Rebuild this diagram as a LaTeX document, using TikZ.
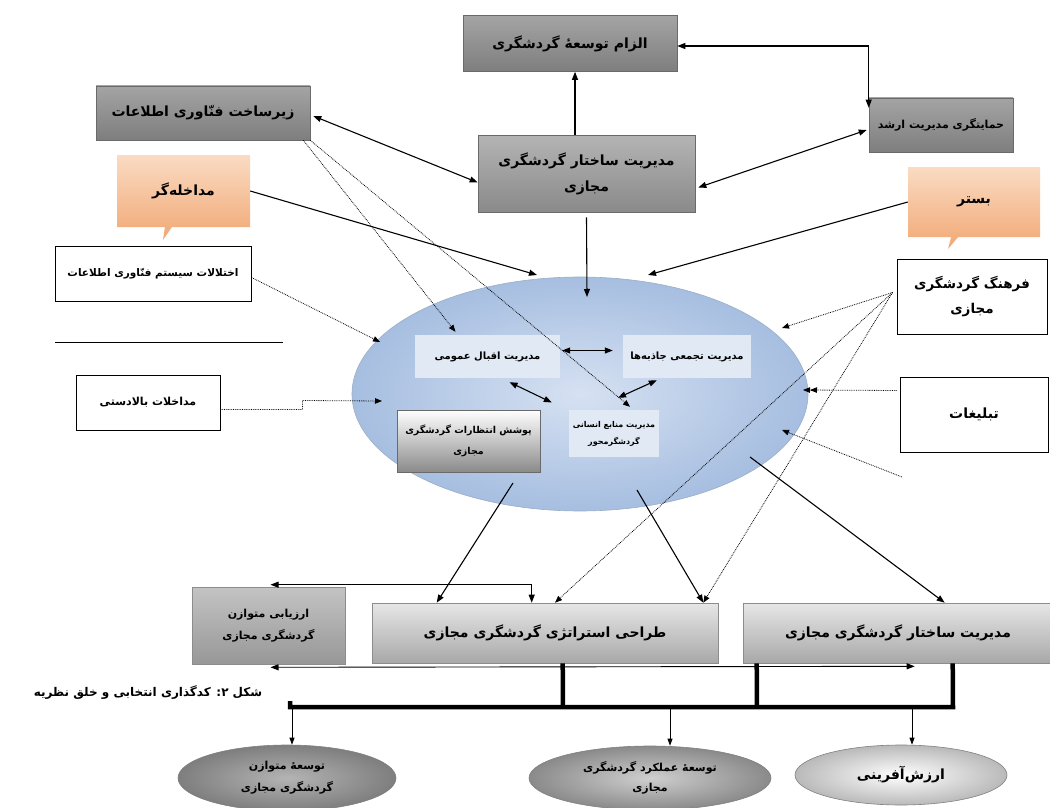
\documentclass[tikz,border=0pt]{standalone}
\usepackage{fontspec}
\usetikzlibrary{arrows.meta,shapes.geometric,shapes.callouts,calc}
\newfontfamily\fa[Script=Arabic]{DejaVu Sans}
\TeXXeTstate=1
\newcommand\RL[1]{{\fa\bfseries\beginR #1\endR}}
\newcommand\fs[1]{\fontsize{#1}{#1}\selectfont}
\definecolor{dkA}{HTML}{A4A4A4}
\definecolor{dkB}{HTML}{7E7E7E}
\definecolor{dkE}{HTML}{6A6A6A}
\definecolor{grA}{HTML}{B4B4B4}
\definecolor{grB}{HTML}{8A8A8A}
\definecolor{orA}{HTML}{FADBC3}
\definecolor{orB}{HTML}{F1A874}
\definecolor{blIn}{HTML}{D6E1F2}
\definecolor{blOut}{HTML}{A6BEE0}
\definecolor{blEdge}{HTML}{9DAEC6}
\definecolor{blBox}{HTML}{E1E9F5}
\definecolor{lwA}{HTML}{E6E6E6}
\definecolor{lwB}{HTML}{A8A8A8}
\definecolor{lwE}{HTML}{8C8C8C}
\begin{document}
\begin{tikzpicture}[x=1pt,y=-1pt,
  arr/.style={-{Triangle[length=8pt,width=6pt]}, line width=1.1pt},
  arrb/.style={{Triangle[length=8pt,width=6pt]}-{Triangle[length=8pt,width=6pt]}, line width=1.1pt},
  dotarr/.style={-{Triangle[length=7pt,width=5.5pt]}, line width=0.8pt, densely dotted},
  dotarrdbl/.style={-{Triangle[length=7pt,width=5.5pt]Triangle[length=7pt,width=5.5pt]}, line width=0.8pt, densely dotted},
  thinarr/.style={-{Triangle[length=7pt,width=5pt]}, line width=0.8pt},
  hub/.style={line width=4.5pt},
  darkbox/.style={rectangle, top color=dkA, bottom color=dkB, draw=dkE, line width=0.6pt, align=center, inner sep=2pt},
  grbox/.style={rectangle, top color=grA, bottom color=grB, draw=dkE, line width=0.6pt, align=center, inner sep=2pt},
  callbox/.style={rectangle callout, top color=orA, bottom color=orB, draw=none, align=center},
  whitebox/.style={rectangle, fill=white, draw=black, line width=1pt, align=center},
  innerbox/.style={rectangle, fill=blBox, draw=none, align=center, inner sep=2pt},
  lowbox/.style={rectangle, top color=lwA, bottom color=lwB, draw=lwE, line width=0.6pt, align=center},
  poolel/.style={ellipse, draw=#1, line width=0.6pt, align=center},
]
\useasboundingbox (0,0) rectangle (1050,808);
\clip (0,0) rectangle (1050,808);

% ---- top boxes
\node[darkbox, minimum width=214pt, minimum height=56pt] (tz) at (570,43.5) {\fs{14}\RL{الزام توسعهٔ گردشگری}};
\node[darkbox, minimum width=214pt, minimum height=54pt] (zir) at (203,113) {\fs{14}\RL{زیرساخت فنّاوری اطلاعات}};
\node[grbox, minimum width=217pt, minimum height=77pt] (mod) at (586.5,173.5) {\fs{14}\RL{مدیریت ساختار گردشگری}\\[11pt]\fs{14}\RL{مجازی}};
\node[darkbox, minimum width=144pt, minimum height=54pt] (ham) at (941,125) {\fs{11}\RL{حمایتگری مدیریت ارشد}};
\node[callbox, callout absolute pointer={(163,240)}, minimum width=133pt, minimum height=72pt] (mdk) at (183.5,191) {\fs{14}\RL{مداخله‌گر}};
\node[callbox, callout absolute pointer={(948,249)}, minimum width=132pt, minimum height=70pt] (bst) at (974,202) {\fs{14}\RL{بستر}};

% ---- left / right boxes
\node[whitebox, minimum width=196pt, minimum height=55pt] (ekh) at (153,273.5) {\fs{10.5}\RL{اختلالات سیستم فنّاوری اطلاعات}};
\node[whitebox, minimum width=144pt, minimum height=55pt] (mbl) at (148,402.5) {\fs{11}\RL{مداخلات بالادستی}};
\node[whitebox, minimum width=150pt, minimum height=75pt] (frh) at (972,296.5) {\fs{13.5}\RL{فرهنگ گردشگری}\\[10pt]\fs{13.5}\RL{مجازی}};
\node[whitebox, minimum width=148pt, minimum height=75pt] (tbl) at (974,414.5) {\fs{14}\RL{تبلیغات}};
\draw[line width=1pt] (55,342) -- (283,342);

% ---- central ellipse
\node[ellipse, inner color=blIn, outer color=blOut, draw=blEdge, line width=0.6pt, minimum width=456pt, minimum height=234pt] (E) at (580,394) {};
\node[innerbox, minimum width=145pt, minimum height=43pt] (iqb) at (487.5,356.5) {\fs{10}\RL{مدیریت اقبال عمومی}};
\node[innerbox, minimum width=128pt, minimum height=43pt] (tjm) at (687,356.5) {\fs{10}\RL{مدیریت تجمعی جاذبه‌ها}};
\node[rectangle, top color=white, bottom color=grB, draw=dkE, line width=0.6pt, align=center, minimum width=143pt, minimum height=62pt] (pos) at (468.5,441) {\fs{9.5}\RL{پوشش انتظارات گردشگری}\\[9pt]\fs{9.5}\RL{مجازی}};
\node[innerbox, minimum width=90pt, minimum height=47pt] (mna) at (614,433.5) {\fs{8}\RL{مدیریت منابع انسانی}\\[5pt]\fs{8}\RL{گردشگرمحور}};

\coordinate (eMdk) at (537,275);
\coordinate (eMod) at (587,297);
\coordinate (eBst) at (648,275);
\coordinate (eEkh) at (380,342);
\coordinate (eMbl) at (382,401);
\coordinate (eFrh) at (782,328);
\coordinate (eTbl) at (803,390);
\coordinate (eFree) at (782,430);
\coordinate (fFree) at (902,477);
\coordinate (o1) at (513,483);
\coordinate (o2) at (637,490);
\coordinate (o3) at (750,457);

% ---- bottom boxes
\node[lowbox, top color=lwA!85!black, bottom color=lwB!90!black, minimum width=153pt, minimum height=77pt] (arz) at (268.5,625.5) {\fs{11}\RL{ارزیابی متوازن}\\[8pt]\fs{11}\RL{گردشگری مجازی}};
\node[lowbox, minimum width=346pt, minimum height=60pt] (trh) at (545,633) {\fs{14}\RL{طراحی استراتژی گردشگری مجازی}};
\node[lowbox, minimum width=310pt, minimum height=60pt] (msg) at (898,633) {\fs{14}\RL{مدیریت ساختار گردشگری مجازی}};

\node (cap) at (148,693) {\fs{12}\RL{شکل ۲: کدگذاری انتخابی و خلق نظریه}};

% ---- bottom ellipses
\node[poolel=gray, inner color=grA, outer color=dkB, minimum width=218pt, minimum height=66pt] (e1) at (287,778) {\fs{11}\RL{توسعهٔ متوازن}\\[8pt]\fs{11}\RL{گردشگری مجازی}};
\node[poolel=gray, inner color=lwA!90!black, outer color=grB, minimum width=242pt, minimum height=64pt] (e2) at (650,778) {\fs{11}\RL{توسعهٔ عملکرد گردشگری}\\[8pt]\fs{11}\RL{مجازی}};
\node[poolel=gray, inner color=white, outer color=lwB!80!white, minimum width=212pt, minimum height=60pt] (e3) at (901,775) {\fs{14}\RL{ارزش‌آفرینی}};

% ---- connectors top
\draw[arr] ($(tz.south |- mod.north)+(5,0)$) -- ($(tz.south)+(5,0)$);
\draw[arrb] ($(tz.east)+(0,2.5)$) -| ($(ham.north west)+(0,10)$);
\draw[arrb] ($(ham.west)+(-2,5)$) -- ($(mod.east)+(3,14)$);
\draw[arrb] ($(zir.east)+(3,3)$) -- ($(mod.west)+(0,9)$);
\draw[arr] (mdk.east) -- (eMdk);
\draw[arr] ($(mod.south)+(0,5)$) -- (eMod);
\draw[arr] (bst.west) -- (eBst);
\draw[dotarr] ($(zir.south east)+(-7,0)$) -- ($(iqb.north)+(-32,-3)$);
\draw[dotarr] (zir.south east) -- ($(mna.north)+(16,-3)$);
\draw[dotarr] ($(ekh.east)+(0,4)$) -- (eEkh);
\draw[dotarr] ($(mbl.east)+(0,7)$) -- ++(82,0) -- ++(0,-9) -- (eMbl);
\draw[dotarr] ($(frh.west)+(-4,-4)$) -- (eFrh);
\draw[dotarr] ($(frh.west)+(-4,-4)$) -- ($(trh.north)+(10,0)$);
\draw[dotarr] ($(frh.west)+(-4,-4)$) -- ($(trh.north east)+(-15,0)$);
\draw[dotarrdbl] ($(tbl.west)+(-3,-24)$) -- (eTbl);
\draw[dotarr] (fFree) -- (eFree);

% ---- inner arrows
\draw[arrb] ($(iqb.east)+(2,-6)$) -- ($(tjm.west)+(-10,-6)$);
\draw[arrb] ($(iqb.south)+(22,4)$) -- ($(mna.west)+(-17,-31)$);
\draw[arrb] ($(tjm.south west)+(34,2)$) -- ($(mna.north)+(4,-12)$);

% ---- out of ellipse
\draw[arr] (o1) -- ($(trh.north west)+(65,0)$);
\draw[arr] (o2) -- ($(trh.north east)+(-15,0)$);
\draw[arr] (o3) -- ($(msg.north west)+(202,0)$);

% ---- bottom structure
\draw[arrb, line width=0.9pt] ($(arz.north)+(2,-2)$) -| ($(trh.north west)+(160,0)$);
\draw[arrb, line width=0.9pt] ($(arz.south)+(2,3)$) -- ($(msg.south west)+(172,3)$);
\coordinate (hL) at (290,707);
\coordinate (h1) at (563,707);
\coordinate (h2) at (757,707);
\coordinate (hR) at (953,707);
\draw[hub] ($(trh.south west)+(191,0)$) -- (h1);
\draw[hub] ($(msg.south west)+(14,0)$) -- (h2);
\draw[hub] ($(msg.south west)+(210,0)$) -- (hR) -- (hL) -- ++(0,-6);
\draw[thinarr] ($(hL)+(2,0)$) -- ($(e1.north)+(5,0)$);
\draw[thinarr] (670,707) -- ($(e2.north)+(20,0)$);
\draw[thinarr] (912,707) -- ($(e3.north)+(11,0)$);
\end{tikzpicture}
\end{document}
